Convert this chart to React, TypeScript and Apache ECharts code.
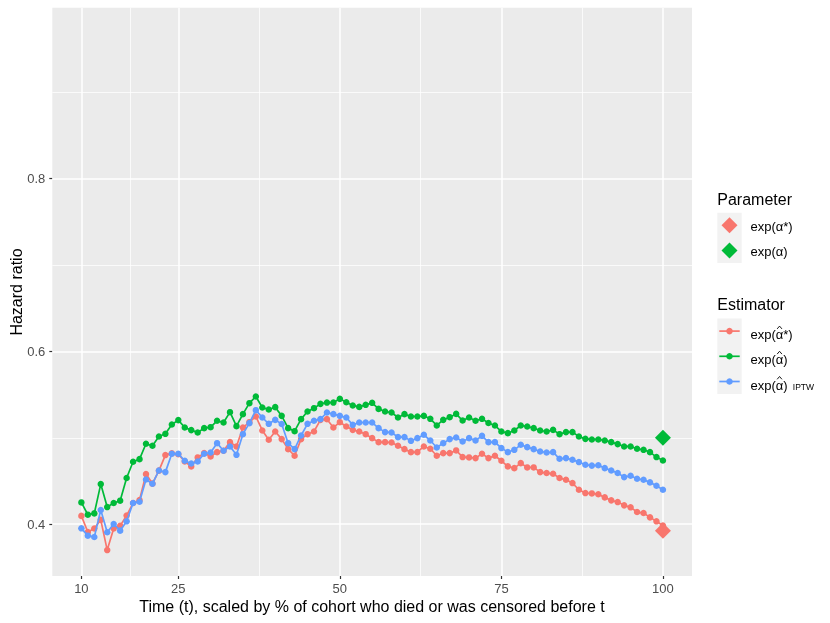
import React, { useEffect, useRef } from "react";
import * as echarts from "echarts";

const times = [
  10, 11, 12, 13, 14, 15, 16, 17, 18, 19, 20, 21, 22, 23, 24, 25, 26, 27, 28, 29,
  30, 31, 32, 33, 34, 35, 36, 37, 38, 39, 40, 41, 42, 43, 44, 45, 46, 47, 48, 49,
  50, 51, 52, 53, 54, 55, 56, 57, 58, 59, 60, 61, 62, 63, 64, 65, 66, 67, 68, 69,
  70, 71, 72, 73, 74, 75, 76, 77, 78, 79, 80, 81, 82, 83, 84, 85, 86, 87, 88, 89,
  90, 91, 92, 93, 94, 95, 96, 97, 98, 99, 100,
];

// exp(alpha-hat*)
const estStar = [
  0.4096, 0.391, 0.395, 0.405, 0.370, 0.395, 0.398, 0.410, 0.4245, 0.428,
  0.458, 0.447, 0.462, 0.480, 0.482, 0.481, 0.4726, 0.4669, 0.4773, 0.4823,
  0.4784, 0.4834, 0.485, 0.495, 0.49, 0.5119, 0.5181, 0.5247, 0.5085, 0.4977,
  0.5073, 0.4985, 0.4869, 0.4792, 0.4985, 0.5042, 0.5073, 0.5208, 0.5216, 0.5119,
  0.5181, 0.5131, 0.5092, 0.5073, 0.5042, 0.4996, 0.495, 0.495, 0.4946, 0.4908,
  0.4869, 0.4834, 0.4834, 0.49, 0.4873, 0.4792, 0.4823, 0.4823, 0.4854, 0.4777,
  0.4773, 0.4765, 0.4815, 0.4765, 0.4792, 0.4734, 0.4669, 0.4649, 0.4707, 0.4657,
  0.4657, 0.4603, 0.4592, 0.4584, 0.4534, 0.4514, 0.4476, 0.4399, 0.436, 0.4356,
  0.4347, 0.431, 0.4276, 0.4256, 0.4218, 0.4195, 0.4141, 0.4129, 0.4079, 0.4033,
  0.3983,
];

// exp(alpha-hat)
const estHat = [
  0.4252, 0.411, 0.4125, 0.4464, 0.4198, 0.4245, 0.4272, 0.4534, 0.4723, 0.4753,
  0.4931, 0.4908, 0.5015, 0.5046, 0.5154, 0.5205, 0.5119, 0.5089, 0.5062, 0.5112,
  0.5123, 0.5197, 0.5177, 0.5297, 0.5135, 0.5274, 0.5401, 0.5478, 0.5351, 0.5328,
  0.5355, 0.5254, 0.5112, 0.5077, 0.5216, 0.5304, 0.5343, 0.5393, 0.5408, 0.5408,
  0.5451, 0.5412, 0.5374, 0.5358, 0.5382, 0.5405, 0.5335, 0.5304, 0.5293, 0.5235,
  0.5274, 0.5247, 0.5247, 0.5254, 0.522, 0.5143, 0.5208, 0.5239, 0.5277, 0.52,
  0.5235, 0.5197, 0.522, 0.5172, 0.5143, 0.5073, 0.5054, 0.5085, 0.5143, 0.5131,
  0.5112, 0.5085, 0.5073, 0.5092, 0.5042, 0.5066, 0.5066, 0.5015, 0.4988, 0.4981,
  0.4981, 0.4969, 0.495, 0.4927, 0.49, 0.49, 0.4873, 0.4861, 0.4834, 0.4777,
  0.4738,
];

// exp(alpha-hat) IPTW
const estIptw = [
  0.3952, 0.3867, 0.3852, 0.4164, 0.3906, 0.4002, 0.3925, 0.4033, 0.4245, 0.426,
  0.4518, 0.4468, 0.4622, 0.4603, 0.4815, 0.4815, 0.4734, 0.4703, 0.4726, 0.4815,
  0.483, 0.4938, 0.485, 0.49, 0.4803, 0.5042, 0.517, 0.532, 0.5235, 0.5162,
  0.5208, 0.516, 0.4938, 0.4869, 0.5027, 0.5162, 0.5197, 0.5216, 0.5293, 0.5274,
  0.5254, 0.5235, 0.515, 0.5177, 0.5177, 0.5177, 0.5112, 0.5066, 0.5062, 0.5008,
  0.5008, 0.4965, 0.4996, 0.5035, 0.4969, 0.4888, 0.4938, 0.4985, 0.5004, 0.4958,
  0.4996, 0.4969, 0.5023, 0.495, 0.495, 0.4881, 0.4834, 0.4861, 0.4919, 0.4892,
  0.4869, 0.4842, 0.483, 0.4834, 0.4757, 0.4765, 0.4746, 0.4719, 0.4688, 0.4678,
  0.4682, 0.4649, 0.4622, 0.4592, 0.4545, 0.4561, 0.4526, 0.4514, 0.4484, 0.4445,
  0.4399,
];

// true parameters
const paramTimes = [100];
const paramStar = [0.3925];
const paramAlpha = [0.5];

const xTicks = [10, 25, 50, 75, 100];
const xMinor = [17.5, 37.5, 62.5, 87.5];
const yTicks = [0.4, 0.6, 0.8];
const yMinor = [0.5, 0.7, 0.9];

const xTitle = "Time (t), scaled by % of cohort who died or was censored before t";
const yTitle = "Hazard ratio";
const paramTitle = "Parameter";
const paramLabels = ["exp(α*)", "exp(α)"];
const estTitle = "Estimator";
const estLabels = ["exp(α*)", "exp(α)", "exp(α)"];
const estSub = ["", "", "IPTW"];

const RED = "#F8766D";
const GREEN = "#00BA38";
const BLUE = "#619CFF";
const FONT_NAME = "Liberation Sans";
const FONT = "'Liberation Sans', Arial, Helvetica, sans-serif";

function measure(text: string, size: number): number {
  try {
    const c = document.createElement("canvas");
    const ctx = c.getContext("2d");
    if (!ctx) return text.length * size * 0.55;
    ctx.font = `${size}px "${FONT_NAME}", Arial, sans-serif`;
    return ctx.measureText(text).width;
  } catch (e) {
    return text.length * size * 0.55;
  }
}

export default function App() {
  const ref = useRef<HTMLDivElement>(null);

  useEffect(() => {
    if (!ref.current) return;
    const chart = echarts.init(ref.current, undefined, { renderer: "svg" });

    const gridLines = [
      ...xTicks.map((v) => ({ xAxis: v, lineStyle: { width: 1.5 } })),
      ...xMinor.map((v) => ({ xAxis: v, lineStyle: { width: 0.75 } })),
      ...yTicks.map((v) => ({ yAxis: v, lineStyle: { width: 1.5 } })),
      ...yMinor.map((v) => ({ yAxis: v, lineStyle: { width: 0.75 } })),
    ];

    const mkLine = (name: string, vals: number[], color: string, z: number) => ({
      name,
      type: "line",
      z,
      data: times.map((t, i) => [t, vals[i]]),
      symbol: "circle",
      symbolSize: 6.5,
      showSymbol: true,
      lineStyle: { color, width: 1.7 },
      itemStyle: { color, opacity: 1 },
      emphasis: { disabled: true },
      silent: true,
    });

    const legendX = 717.3;
    const keyW = 24.4;
    const keyH = 25.2;
    const labelX = 750.5;
    const pTop = 212.7;
    const eTop = 318.5;
    const paramColors = [RED, GREEN];
    const estColors = [RED, GREEN, BLUE];
    const LBL = 13;

    const graphic: any[] = [
      {
        type: "text",
        x: 16,
        y: 292,
        rotation: Math.PI / 2,
        style: { text: yTitle, fontFamily: FONT, fontSize: 16, fill: "#000", align: "center", verticalAlign: "middle" },
      },
      {
        type: "text",
        x: 372,
        y: 606,
        style: { text: xTitle, fontFamily: FONT, fontSize: 16, fill: "#000", align: "center", verticalAlign: "middle" },
      },
      {
        type: "text",
        x: legendX,
        y: 199,
        style: { text: paramTitle, fontFamily: FONT, fontSize: 16, fill: "#000", align: "left", verticalAlign: "middle" },
      },
      {
        type: "rect",
        shape: { x: legendX, y: pTop, width: keyW, height: keyH * 2 },
        style: { fill: "#F2F2F2" },
      },
      {
        type: "text",
        x: legendX,
        y: 304,
        style: { text: estTitle, fontFamily: FONT, fontSize: 16, fill: "#000", align: "left", verticalAlign: "middle" },
      },
      {
        type: "rect",
        shape: { x: legendX, y: eTop, width: keyW, height: keyH * 3 },
        style: { fill: "#F2F2F2" },
      },
    ];

    paramLabels.forEach((lab, i) => {
      const cx = legendX + keyW / 2;
      const cy = pTop + keyH * (i + 0.5);
      const h = 8;
      graphic.push({
        type: "polygon",
        shape: { points: [[cx, cy - h], [cx + h, cy], [cx, cy + h], [cx - h, cy]] },
        style: { fill: paramColors[i] },
      });
      graphic.push({
        type: "text",
        x: labelX,
        y: cy + 1,
        style: { text: lab, fontFamily: FONT, fontSize: LBL, fill: "#000", align: "left", verticalAlign: "middle" },
      });
    });

    const preW = measure("exp(", LBL);
    const alphaW = measure("α", LBL);

    estLabels.forEach((lab, i) => {
      const cx = legendX + keyW / 2;
      const cy = eTop + keyH * (i + 0.5);
      const ty = cy + 3.5;
      graphic.push({
        type: "line",
        shape: { x1: legendX + 2, y1: cy, x2: legendX + keyW - 2, y2: cy },
        style: { stroke: estColors[i], lineWidth: 1.7 },
      });
      graphic.push({
        type: "circle",
        shape: { cx, cy, r: 3.25 },
        style: { fill: estColors[i] },
      });
      graphic.push({
        type: "text",
        x: labelX,
        y: ty,
        style: { text: lab, fontFamily: FONT, fontSize: LBL, fill: "#000", align: "left", verticalAlign: "middle" },
      });
      const ax = labelX + preW + alphaW / 2;
      const hatTop = ty - 8.5;
      graphic.push({
        type: "polyline",
        shape: { points: [[ax - 2.4, hatTop + 2.8], [ax, hatTop], [ax + 2.4, hatTop + 2.8]] },
        style: { stroke: "#000", lineWidth: 0.9, fill: null },
      });
      if (estSub[i]) {
        graphic.push({
          type: "text",
          x: 792.8,
          y: cy + 5.2,
          style: { text: estSub[i], fontFamily: FONT, fontSize: 8.5, fill: "#000", align: "left", verticalAlign: "middle" },
        });
      }
    });

    const option: any = {
      animation: false,
      textStyle: { fontFamily: FONT },
      grid: {
        left: 52.3,
        right: 138,
        top: 7.7,
        bottom: 47,
        show: true,
        backgroundColor: "#EBEBEB",
        borderWidth: 0,
        containLabel: false,
        outerBoundsMode: "none",
      },
      xAxis: {
        type: "value",
        min: 5.5,
        max: 104.5,
        splitLine: { show: false },
        axisLine: { show: false },
        axisTick: { show: true, customValues: xTicks, length: 3, lineStyle: { color: "#333333", width: 1.2 } },
        axisLabel: {
          customValues: xTicks,
          color: "#4D4D4D",
          fontSize: 13,
          margin: 6,
          fontFamily: FONT,
          formatter: (v: number) => String(v),
        },
      },
      yAxis: {
        type: "value",
        min: 0.34,
        max: 0.998,
        splitLine: { show: false },
        axisLine: { show: false },
        axisTick: { show: true, customValues: yTicks, length: 3, lineStyle: { color: "#333333", width: 1.2 } },
        axisLabel: {
          customValues: yTicks,
          color: "#4D4D4D",
          fontSize: 13,
          margin: 7,
          fontFamily: FONT,
          formatter: (v: number) => v.toFixed(1),
        },
      },
      series: [
        {
          name: "grid",
          type: "line",
          z: 1,
          data: [[5.5, 0.34]],
          symbol: "none",
          showSymbol: false,
          lineStyle: { opacity: 0 },
          silent: true,
          markLine: {
            z: 1,
            silent: true,
            symbol: ["none", "none"],
            label: { show: false },
            lineStyle: { color: "#FFFFFF", type: "solid", width: 1.5 },
            emphasis: { disabled: true },
            data: gridLines,
          },
        },
        mkLine("exp(α̂*)", estStar, RED, 3),
        mkLine("exp(α̂)", estHat, GREEN, 4),
        mkLine("exp(α̂) IPTW", estIptw, BLUE, 5),
        {
          name: "exp(α*)",
          type: "scatter",
          z: 6,
          symbol: "diamond",
          symbolSize: 16,
          data: paramTimes.map((t, i) => [t, paramStar[i]]),
          itemStyle: { color: RED, opacity: 1 },
          emphasis: { disabled: true },
          silent: true,
        },
        {
          name: "exp(α)",
          type: "scatter",
          z: 6,
          symbol: "diamond",
          symbolSize: 16,
          data: paramTimes.map((t, i) => [t, paramAlpha[i]]),
          itemStyle: { color: GREEN, opacity: 1 },
          emphasis: { disabled: true },
          silent: true,
        },
      ],
      graphic,
    };

    chart.setOption(option);
    return () => chart.dispose();
  }, []);

  return (
    <div
      ref={ref}
      style={{ position: "fixed", left: 0, top: 0, width: 830, height: 623 }}
    />
  );
}
